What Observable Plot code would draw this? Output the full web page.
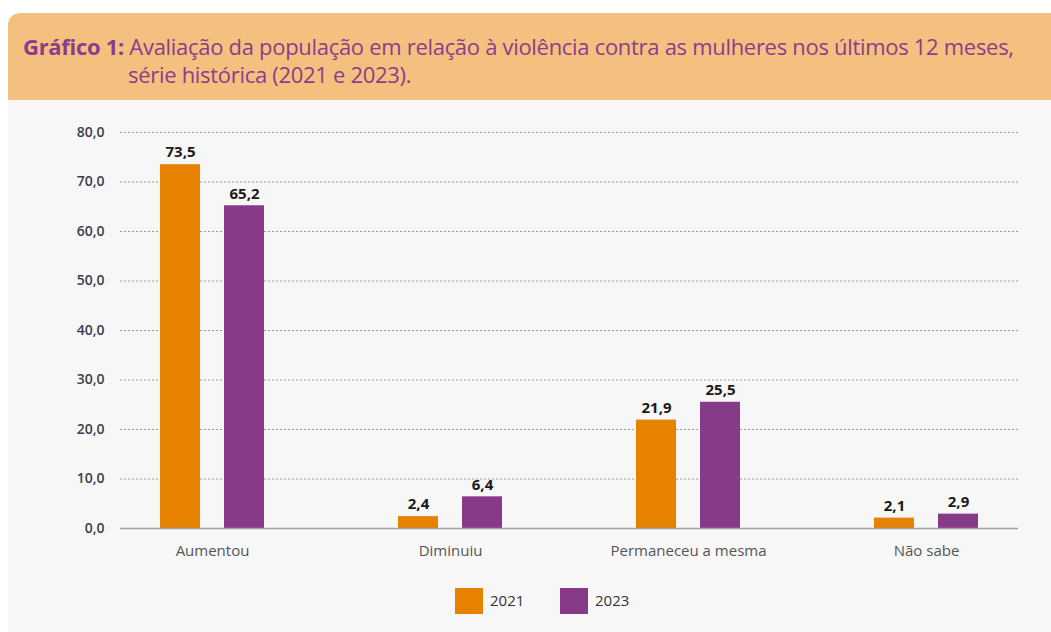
<!DOCTYPE html>
<html>
<head>
<meta charset="utf-8">
<script src="https://cdn.jsdelivr.net/npm/d3@7"></script>
<script src="https://cdn.jsdelivr.net/npm/@observablehq/plot@0.6"></script>
<style>
  html, body { margin: 0; padding: 0; background: #ffffff; }
  #page { position: relative; width: 1051px; height: 632px; overflow: hidden; }
  #header {
    position: absolute; left: 8px; top: 13px; width: 1043px; height: 87px;
    background: #f4c07f; border-top-left-radius: 12px;
    font-family: "Open Sans", sans-serif;
    color: #8b3d8c; font-size: 22px; line-height: 28px; letter-spacing: -0.3px;
  }
  #header .l1 { position: absolute; left: 15px; top: 19px; white-space: nowrap; }
  #header .l2 { position: absolute; left: 120px; top: 47px; white-space: nowrap; }
  #header b { font-weight: 700; }
  #body { position: absolute; left: 8px; top: 100px; width: 1043px; height: 532px; background: #f7f7f7; }
  #chart { position: absolute; left: -8px; top: 0; }
  #legend { position: absolute; left: 0; top: 488px; width: 1051px; height: 26px;
    font-family: "Open Sans", sans-serif; font-size: 15px; color: #333; }
  .sw { position: absolute; top: 0; width: 28px; height: 26px; }
  .lt { position: absolute; top: 2px; }
</style>
</head>
<body>
<div id="page">
  <div id="header">
    <div class="l1"><b>Gráfico 1:</b> Avaliação da população em relação à violência contra as mulheres nos últimos 12 meses,</div>
    <div class="l2">série histórica (2021 e 2023).</div>
  </div>
  <div id="body">
    <div id="chart"></div>
    <div id="legend"></div>
  </div>
</div>
<script>
const categories = ["Aumentou", "Diminuiu", "Permaneceu a mesma", "Não sabe"];
const years = ["2021", "2023"];
const values2021 = [73.5, 2.4, 21.9, 2.1];
const values2023 = [65.2, 6.4, 25.5, 2.9];
const yTicks = [0, 10, 20, 30, 40, 50, 60, 70, 80];
const colors = ["#e68200", "#873a87"];

const fmt = v => v.toFixed(1).replace(".", ",");
const d21 = categories.map((c, i) => ({category: c, year: "2021", value: values2021[i]}));
const d23 = categories.map((c, i) => ({category: c, year: "2023", value: values2023[i]}));

const W = 1051;
const chart = Plot.plot({
  width: W,
  height: 475,
  marginTop: 32,
  marginBottom: 47,
  marginLeft: 120,
  marginRight: 33,
  style: {background: "transparent", fontFamily: "Open Sans, sans-serif"},
  x: {domain: categories, range: [24, 1114], padding: 0.561, label: null},
  y: {domain: [0, 80], label: null},
  marks: [
    Plot.ruleY(yTicks.filter(t => t > 0), {stroke: "#9a9a9a", strokeWidth: 1, strokeDasharray: "2,2"}),
    Plot.barY(d21, {x: "category", y: "value", fill: colors[0], insetRight: 64, insetLeft: 0}),
    Plot.barY(d23, {x: "category", y: "value", fill: colors[1], insetLeft: 64, insetRight: 0}),
    Plot.ruleY([0], {stroke: "#a0a0a0", strokeWidth: 1.5}),
    Plot.text(d21, {x: "category", y: "value", text: d => fmt(d.value), dx: -32, dy: -12, fontWeight: 700, fontSize: 15, fill: "#1a1a1a"}),
    Plot.text(d23, {x: "category", y: "value", text: d => fmt(d.value), dx: 32, dy: -12, fontWeight: 700, fontSize: 15, fill: "#1a1a1a"}),
    Plot.axisY({ticks: yTicks, tickFormat: fmt, tickSize: 0, tickPadding: 16, fontSize: 14, fontWeight: 600, fill: "#3d3d4a"}),
    Plot.axisX({tickSize: 0, tickPadding: 17, fontSize: 15, fill: "#555"})
  ]
});
document.getElementById("chart").appendChild(chart);

// legend (HTML, below the SVG)
const legend = document.getElementById("legend");
const legendX = [447, 552];
years.forEach((y, i) => {
  const sw = document.createElement("div");
  sw.className = "sw"; sw.style.left = legendX[i] + "px"; sw.style.background = colors[i];
  legend.appendChild(sw);
  const t = document.createElement("div");
  t.className = "lt"; t.style.left = (legendX[i] + 35) + "px"; t.textContent = y;
  legend.appendChild(t);
});
</script>
</body>
</html>
